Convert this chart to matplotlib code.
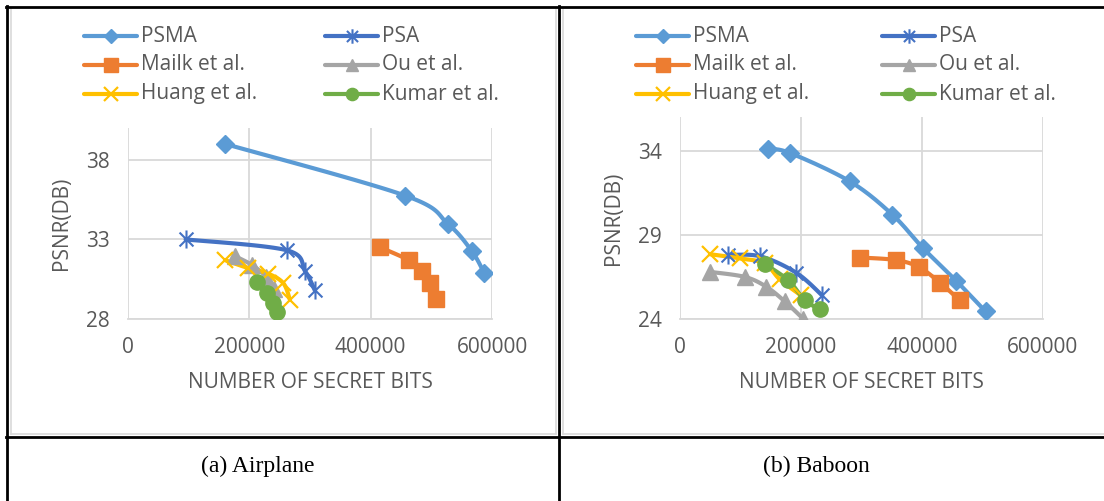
import matplotlib
matplotlib.use("Agg")
import matplotlib.pyplot as plt
import numpy as np
from matplotlib.lines import Line2D
from matplotlib.path import Path

# ---- data ----
series_names = ["PSMA", "PSA", "Mailk et al.", "Ou et al.", "Huang et al.", "Kumar et al."]

# (a) Airplane
air_psma_x = [160000, 457000, 528000, 567000, 587000]
air_psma_y = [39.0, 35.75, 33.95, 32.25, 30.9]
air_psa_x = [95000, 261500, 292000, 308000]
air_psa_y = [33.0, 32.32, 31.0, 29.8]
air_mailk_x = [415600, 462400, 484400, 498200, 508100]
air_mailk_y = [32.5, 31.7, 31.0, 30.25, 29.25]
air_ou_x = [176000, 204000, 228000, 240000]
air_ou_y = [31.95, 31.4, 30.65, 29.9]
air_huang_x = [160000, 198000, 231000, 256000, 267000]
air_huang_y = [31.7, 31.2, 30.85, 30.25, 29.2]
air_kumar_x = [212000, 228500, 239000, 245000]
air_kumar_y = [30.35, 29.65, 29.0, 28.45]

# (b) Baboon
bab_psma_x = [146000, 182000, 281000, 351000, 402000, 457000, 505000]
bab_psma_y = [34.1, 33.86, 32.17, 30.2, 28.2, 26.25, 24.45]
bab_psa_x = [80000, 133000, 192000, 235000]
bab_psa_y = [27.8, 27.72, 26.75, 25.4]
bab_mailk_x = [298000, 357000, 395000, 430000, 462000]
bab_mailk_y = [27.65, 27.5, 27.08, 26.15, 25.12]
bab_ou_x = [49500, 107000, 142000, 173000, 204000]
bab_ou_y = [26.8, 26.5, 25.93, 25.05, 24.0]
bab_huang_x = [49500, 99000, 140000, 165000, 200000]
bab_huang_y = [27.85, 27.6, 27.3, 26.35, 25.4]
bab_kumar_x = [140000, 179000, 206000, 231000]
bab_kumar_y = [27.27, 26.3, 25.13, 24.57]

x_ticks = [0, 200000, 400000, 600000]
air_y_ticks = [28, 33, 38]
bab_y_ticks = [24, 29, 34]

colors = ["#5B9BD5", "#4472C4", "#ED7D31", "#A5A5A5", "#FFC000", "#70AD47"]
TEXT = "#595959"
GRID = "#D9D9D9"

# excel-like star marker: an X plus a vertical bar
star = Path([(-1, -1), (1, 1), (-1, 1), (1, -1), (0, -1.3), (0, 1.3)],
            [Path.MOVETO, Path.LINETO, Path.MOVETO, Path.LINETO, Path.MOVETO, Path.LINETO])

styles = [
    dict(marker="D", ms=9),
    dict(marker=star, ms=13, mfc="none", mew=1.5),
    dict(marker="s", ms=12),
    dict(marker="^", ms=11),
    dict(marker="x", ms=12, mew=1.6),
    dict(marker="o", ms=11),
]


def smooth(x, y, n=30):
    # excel style smoothed line (cardinal spline through the points)
    x = np.asarray(x, float)
    y = np.asarray(y, float)
    if len(x) < 3:
        return x, y
    px = np.concatenate([[x[0]], x, [x[-1]]])
    py = np.concatenate([[y[0]], y, [y[-1]]])
    xs, ys = [], []
    t = np.linspace(0, 1, n)
    for i in range(1, len(px) - 2):
        p0 = np.array([px[i], py[i]])
        p3 = np.array([px[i + 1], py[i + 1]])
        c1 = p0 + (np.array([px[i + 1], py[i + 1]]) - np.array([px[i - 1], py[i - 1]])) / 6
        c2 = p3 - (np.array([px[i + 2], py[i + 2]]) - np.array([px[i], py[i]])) / 6
        b = ((1 - t) ** 3)[:, None] * p0 + (3 * (1 - t) ** 2 * t)[:, None] * c1 \
            + (3 * (1 - t) * t ** 2)[:, None] * c2 + (t ** 3)[:, None] * p3
        xs.append(b[:, 0])
        ys.append(b[:, 1])
    return np.concatenate(xs), np.concatenate(ys)


def smooth_plot(ax, x, y, color, style, xlim, ylim):
    # smooth in display-normalised space so the curve shape is scale independent
    sx = (np.asarray(x) - xlim[0]) / (xlim[1] - xlim[0]) * 363
    sy = (np.asarray(y) - ylim[0]) / (ylim[1] - ylim[0]) * 191
    cx, cy = smooth(sx, sy)
    cx = cx / 363 * (xlim[1] - xlim[0]) + xlim[0]
    cy = cy / 191 * (ylim[1] - ylim[0]) + ylim[0]
    ax.plot(cx, cy, color=color, lw=3, solid_capstyle="round", zorder=3)
    kw = dict(style)
    if kw["marker"] in ("x",) or kw.get("mfc") == "none":
        ax.plot(x, y, ls="none", color=color, zorder=4, **kw)
    else:
        ax.plot(x, y, ls="none", color=color, mec=color, zorder=4, **kw)


fig = plt.figure(figsize=(11.04, 5.01), dpi=100)
W, H = 1104, 501


def make_axes(left, top, right, bottom):
    return fig.add_axes([left / W, 1 - bottom / H, (right - left) / W, (bottom - top) / H])


panels = [
    (make_axes(128, 128, 492, 319), (0, 600000), (28, 40), air_y_ticks,
     [(air_psma_x, air_psma_y), (air_psa_x, air_psa_y), (air_mailk_x, air_mailk_y),
      (air_ou_x, air_ou_y), (air_huang_x, air_huang_y), (air_kumar_x, air_kumar_y)],
     84, 325),
    (make_axes(680, 117, 1043, 319), (0, 600000), (24, 36), bab_y_ticks,
     [(bab_psma_x, bab_psma_y), (bab_psa_x, bab_psa_y), (bab_mailk_x, bab_mailk_y),
      (bab_ou_x, bab_ou_y), (bab_huang_x, bab_huang_y), (bab_kumar_x, bab_kumar_y)],
     636, 882),
]

font = "Open Sans"
for ax, xlim, ylim, yticks, data, leg1, leg2 in panels:
    for (x, y), c, st in zip(data, colors, styles):
        smooth_plot(ax, x, y, c, st, xlim, ylim)
    ax.set_xlim(xlim)
    ax.set_ylim(ylim)
    ax.set_xticks(x_ticks)
    ax.set_xticklabels([str(v) for v in x_ticks])
    ax.set_yticks(yticks)
    ax.grid(True, color=GRID, lw=1.3, zorder=0)
    ax.set_axisbelow(True)
    for s in ["top", "right", "left"]:
        ax.spines[s].set_visible(False)
    ax.spines["bottom"].set_color(GRID)
    ax.spines["bottom"].set_linewidth(1.3)
    ax.tick_params(length=0, labelsize=15, colors=TEXT, pad=13)
    for lab in ax.get_xticklabels() + ax.get_yticklabels():
        lab.set_fontfamily(font)
    ax.set_xlabel("NUMBER OF SECRET BITS", fontsize=15, color=TEXT, family=font, labelpad=10)
    ax.set_ylabel("PSNR(DB)", fontsize=15, color=TEXT, family=font, labelpad=10)

    # legend, two columns by three rows
    for i, (name, c, st) in enumerate(zip(series_names, colors, styles)):
        col, row = i % 2, i // 2
        x0 = (leg1 if col == 0 else leg2)
        yy = 1 - (36 + row * 29) / H
        kw = dict(st)
        if kw["marker"] != "x" and kw.get("mfc") != "none":
            kw["mec"] = c
        kw["ms"] = kw["ms"] * 0.8
        fig.add_artist(Line2D([x0 / W, (x0 + 53) / W], [yy, yy], color=c, lw=3,
                              solid_capstyle="round", transform=fig.transFigure))
        fig.add_artist(Line2D([(x0 + 26.5) / W], [yy], color=c, ls="none",
                              transform=fig.transFigure, **kw))
        fig.text((x0 + 57) / W, yy, name, fontsize=15, color=TEXT, family=font,
                 va="center", ha="left")

# chart-area borders (light gray) and table lines (black)
def hline(x0, x1, y, color="black", lw=2.0):
    fig.add_artist(Line2D([x0 / W, x1 / W], [1 - y / H, 1 - y / H], color=color, lw=lw,
                          transform=fig.transFigure))


def vline(x, y0, y1, color="black", lw=2.0):
    fig.add_artist(Line2D([x / W, x / W], [1 - y0 / H, 1 - y1 / H], color=color, lw=lw,
                          transform=fig.transFigure))


vline(11, 9, 434, color="#D9D9D9", lw=1.2)
vline(556, 9, 434, color="#D9D9D9", lw=1.2)
hline(11, 556, 434, color="#D9D9D9", lw=1.2)
vline(563, 9, 434, color="#D9D9D9", lw=1.2)
hline(563, 1104, 434, color="#D9D9D9", lw=1.2)

hline(6, 1104, 6.5)
vline(7, 6, 501)
vline(559, 6, 501)
hline(6, 1104, 437)

fig.text(258 / W, 1 - 466 / H, "(a) Airplane", fontsize=17, family="Liberation Serif",
         ha="center", va="center", color="black")
fig.text(816 / W, 1 - 466 / H, "(b) Baboon", fontsize=17, family="Liberation Serif",
         ha="center", va="center", color="black")

fig.savefig("out.png", dpi=100, facecolor="white")
